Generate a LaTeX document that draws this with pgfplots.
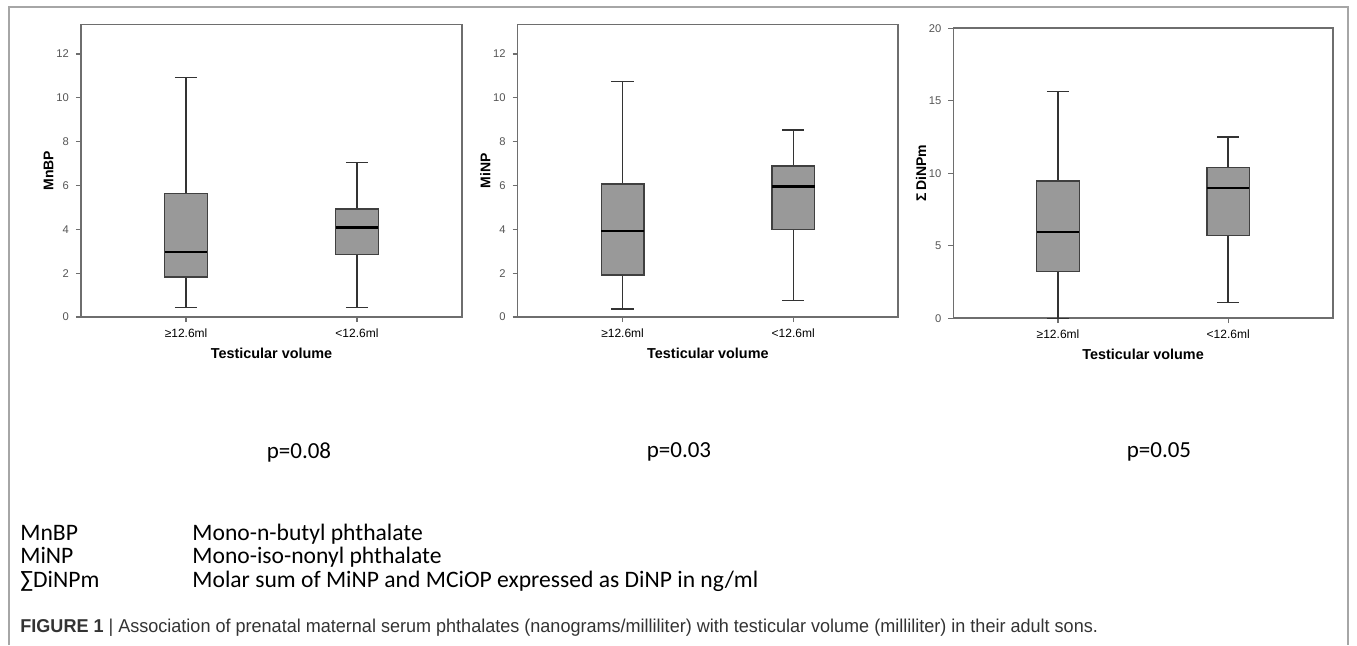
\documentclass[border=0pt]{standalone}
\usepackage{fontspec}
\setmainfont{Liberation Sans}
\newfontfamily\calib{Carlito}
\newfontfamily\capfont[FakeStretch=0.97]{Liberation Sans}
\usepackage{pgfplots}
\pgfplotsset{compat=1.18}
\usepgfplotslibrary{statistics}

\definecolor{boxfill}{HTML}{999999}
\definecolor{boxline}{HTML}{404040}
\definecolor{axline}{HTML}{6E6E6E}
\definecolor{framegray}{HTML}{A6A6A6}
\definecolor{tickgray}{HTML}{555555}
\definecolor{capgray}{HTML}{333333}

\pgfplotsset{
  spssbox/.style={
    scale only axis, anchor=south west,
    xmin=0.385, xmax=2.615, ymin=0,
    xtick={1,2}, xticklabels={≥12.6ml,<12.6ml},
    axis line style={axline, line width=0.75pt},
    tick style={axline, line width=0.6pt},
    tick align=outside, major tick length=2.5pt,
    xtick pos=bottom, ytick pos=left,
    /pgf/number format/assume math mode=true,
    yticklabel style={font=\fontsize{5.6}{6}\selectfont, text=tickgray},
    xticklabel style={font=\fontsize{6}{7}\selectfont, text=black},
    xlabel={Testicular volume},
    xlabel style={font=\bfseries\fontsize{7.2}{8}\selectfont, at={(axis description cs:0.5,-0.123)}, anchor=center},
    ylabel style={font=\bfseries\fontsize{7}{8}\selectfont, at={(axis description cs:-0.085,0.5)}, anchor=center},
    clip=false,
    boxplot/draw direction=y,
    boxplot/box extend=0.25,
    boxplot/whisker extend=0.13,
    boxplot/every box/.style={draw=boxline, fill=boxfill, line width=0.65pt},
    boxplot/every whisker/.style={draw=black!80, line width=0.7pt},
    boxplot/every median/.style={draw=black, line width=1.2pt},
  },
}

\begin{document}
\begin{tikzpicture}
\useasboundingbox (0,0) rectangle (678.5pt,322.5pt);
\draw[framegray, line width=0.7pt] (4.5pt,0) -- (4.5pt,319pt) -- (674pt,319pt) -- (674pt,0);

% MnBP
\begin{axis}[spssbox, at={(40.5pt,164pt)}, width=190.5pt, height=146.2pt,
    ymax=13.34, ytick={0,2,...,12}, ylabel={MnBP}]
  \addplot[boxplot prepared={lower whisker=0.43, lower quartile=1.83, median=2.97,
      upper quartile=5.64, upper whisker=10.92, draw position=1}] coordinates {};
  \addplot[boxplot prepared={lower whisker=0.43, lower quartile=2.86, median=4.09,
      upper quartile=4.93, upper whisker=7.06, draw position=2}] coordinates {};
\end{axis}

% MiNP
\begin{axis}[spssbox, at={(258.8pt,164pt)}, width=190.3pt, height=146.2pt,
    ymax=13.34, ytick={0,2,...,12}, ylabel={MiNP}]
  \addplot[boxplot prepared={lower whisker=0.37, lower quartile=1.92, median=3.92,
      upper quartile=6.07, upper whisker=10.75, draw position=1}] coordinates {};
  \addplot[boxplot prepared={lower whisker=0.76, lower quartile=3.98, median=5.95,
      upper quartile=6.89, upper whisker=8.53, draw position=2}] coordinates {};
\end{axis}

% sum DiNPm
\begin{axis}[spssbox, at={(476.7pt,163.4pt)}, width=189.7pt, height=145pt,
    ymax=20, ytick={0,5,...,20}, ylabel={Σ\,DiNPm}]
  \addplot[boxplot prepared={lower whisker=0, lower quartile=3.2, median=5.95,
      upper quartile=9.47, upper whisker=15.63, draw position=1}] coordinates {};
  \addplot[boxplot prepared={lower whisker=1.08, lower quartile=5.72, median=8.97,
      upper quartile=10.39, upper whisker=12.5, draw position=2}] coordinates {};
\end{axis}

\begin{scope}[every node/.style={font=\calib\fontsize{11.5}{13}\selectfont, inner sep=0pt}]
  \node at (149.5pt,96.5pt) {p=0.08};
  \node at (339.5pt,96.5pt) {p=0.03};
  \node at (579.5pt,96.5pt) {p=0.05};
\end{scope}

\begin{scope}[every node/.style={font=\calib\fontsize{11.8}{13}\selectfont, inner sep=0pt, anchor=base west}]
  \node at (10pt,52.5pt) {MnBP};
  \node at (96pt,52.5pt) {Mono-n-butyl phthalate};
  \node at (10pt,41pt) {MiNP};
  \node at (96pt,41pt) {Mono-iso-nonyl phthalate};
  \node at (10pt,29pt) {∑DiNPm};
  \node at (96pt,29pt) {Molar sum of MiNP and MCiOP expressed as DiNP in ng/ml};
\end{scope}

\node[anchor=base west, inner sep=0pt, text=capgray, font=\capfont\fontsize{9.3}{10}\selectfont]
  at (10pt,6.5pt) {\textbf{FIGURE 1} | Association of prenatal maternal serum phthalates (nanograms/milliliter) with testicular volume (milliliter) in their adult sons.};
\end{tikzpicture}
\end{document}
